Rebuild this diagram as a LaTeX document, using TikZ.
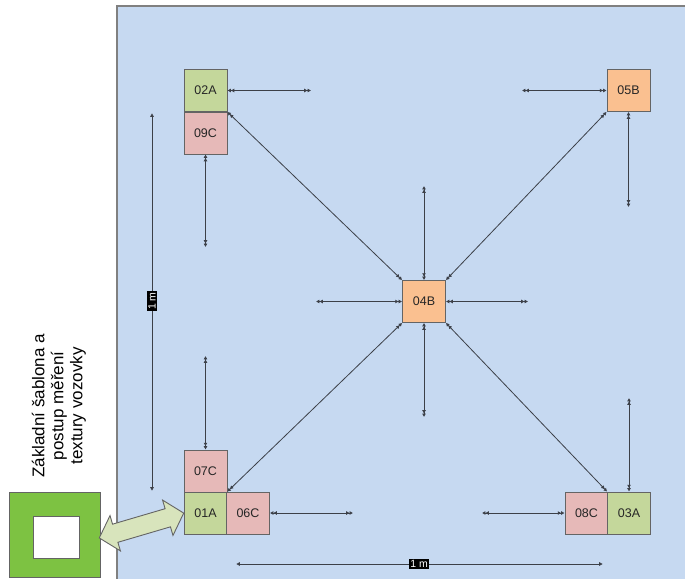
\documentclass[tikz,border=0pt]{standalone}
\usepackage{fontspec}
\setmainfont{Liberation Sans}
\usetikzlibrary{arrows.meta,shapes.arrows}
\definecolor{panelblue}{RGB}{198,217,241}
\definecolor{paneledge}{RGB}{128,128,128}
\definecolor{boxgreen}{RGB}{196,215,155}
\definecolor{boxred}{RGB}{230,185,184}
\definecolor{boxorange}{RGB}{250,192,144}
\definecolor{boxedge}{RGB}{100,100,100}
\definecolor{linecol}{RGB}{60,64,72}
\definecolor{tmplgreen}{RGB}{125,194,66}
\definecolor{fatfill}{RGB}{216,228,188}
\tikzset{
  cell/.style={draw=boxedge, line width=0.9pt, minimum width=43pt, minimum height=42pt,
    inner sep=0pt, font=\fontsize{12.5}{14}\selectfont, text=black!85},
  greencell/.style={cell, fill=boxgreen},
  redcell/.style={cell, fill=boxred},
  orangecell/.style={cell, fill=boxorange},
  link/.style={draw=linecol, line width=0.8pt,
    {Latex[length=3.4pt,width=4pt] Latex[length=3.4pt,width=4pt]}-{Latex[length=3.4pt,width=4pt] Latex[length=3.4pt,width=4pt]}},
  scaleline/.style={draw=linecol, line width=0.8pt,
    {Latex[length=3.8pt,width=4pt]}-{Latex[length=3.8pt,width=4pt]}},
  scalelabel/.style={fill=black, text=white, inner sep=1.6pt,
    font=\fontsize{10.5}{11}\selectfont},
}
\begin{document}
\begin{tikzpicture}[x=1pt,y=-1pt]
\useasboundingbox (0,0) rectangle (685,578);

% measuring area
\fill[panelblue] (117,6) rectangle (686,579);
\draw[paneledge, line width=1.4pt] (117,579) -- (117,6) -- (686,6);

% measuring positions
\node[greencell]  (02A) at (205.5,90.5) {02A};
\node[redcell]    (09C) at (205.5,133)  {09C};
\node[orangecell] (05B) at (628.5,90.5) {05B};
\node[orangecell] (04B) at (424,301.5)  {04B};
\node[redcell]    (07C) at (205.5,471)  {07C};
\node[greencell]  (01A) at (205.5,513)  {01A};
\node[redcell]    (06C) at (248,513)    {06C};
\node[redcell]    (08C) at (586.5,513)  {08C};
\node[greencell]  (03A) at (629,513)    {03A};

% free ends of the short measuring runs
\coordinate (e02A) at (311,90.5);
\coordinate (e09C) at (205.5,247);
\coordinate (e05Bw) at (522,90.5);
\coordinate (e05Bs) at (628.5,207);
\coordinate (e04Bn) at (424,186);
\coordinate (e04Bw) at (316,301.5);
\coordinate (e04Be) at (528,301.5);
\coordinate (e04Bs) at (424,417);
\coordinate (e07C) at (205.5,356);
\coordinate (e06C) at (353,513);
\coordinate (e08C) at (482,513);
\coordinate (e03A) at (629,398);

\draw[link] (02A.east) -- (e02A);
\draw[link] (09C.south) -- (e09C);
\draw[link] (05B.west) -- (e05Bw);
\draw[link] (05B.south) -- (e05Bs);
\draw[link] (04B.north) -- (e04Bn);
\draw[link] (04B.west) -- (e04Bw);
\draw[link] (04B.east) -- (e04Be);
\draw[link] (04B.south) -- (e04Bs);
\draw[link] (07C.north) -- (e07C);
\draw[link] (06C.east) -- (e06C);
\draw[link] (08C.west) -- (e08C);
\draw[link] (03A.north) -- (e03A);

% diagonals to the centre
\draw[link] (02A.south east) -- (04B.north west);
\draw[link] (05B.south west) -- (04B.north east);
\draw[link] (04B.south west) -- (01A.north east);
\draw[link] (04B.south east) -- (03A.north west);

% 1 m scale bars
\coordinate (vtop) at (152,113);
\coordinate (vbot) at (152,491);
\coordinate (hleft) at (236,564);
\coordinate (hright) at (603,564);
\draw[scaleline] (vtop) -- (vbot);
\draw[scaleline] (hleft) -- (hright);
\node[scalelabel, rotate=90] (vlab) at (152,301) {1 m};
\node[scalelabel] (hlab) at (419,564) {1 m};

% template
\node[draw=boxedge, line width=0.8pt, fill=tmplgreen, minimum width=91pt, minimum height=85pt, inner sep=0pt] (tmpl) at (54.5,534.5) {};
\node[draw=boxedge, line width=0.8pt, fill=white, minimum width=46pt, minimum height=42pt, inner sep=0pt] (hole) at (56,537) {};

% wide double arrow between template and position 01A
\node[shape=double arrow, draw=boxedge, line width=0.9pt, fill=fatfill,
  minimum height=88pt, inner xsep=0pt, inner ysep=9pt,
  double arrow head extend=9pt, double arrow tip angle=96,
  rotate=16.4] (fat) at (141.5,525.5) {};

% caption
\node[rotate=90, align=center, font=\fontsize{17}{19}\selectfont] (cap) at (59,406)
  {Základní šablona a\\postup měření\\textury vozovky};
\end{tikzpicture}
\end{document}
